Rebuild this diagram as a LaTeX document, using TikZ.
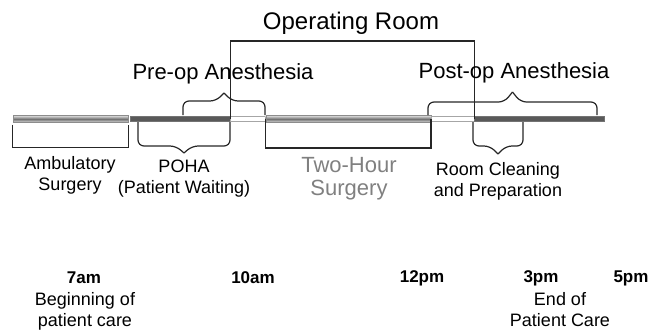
\documentclass[tikz,border=0pt]{standalone}
\usepackage{fontspec}
\setmainfont{Liberation Sans}
\usetikzlibrary{positioning}

% brace with long arms: x1, x2, bar y, arm y, tip y
\newcommand{\spanbrace}[5]{%
  \pgfmathsetmacro\bmid{(#1+#2)/2}%
  \draw[bracepath] (#1,#3) -- (#1,#4) -- (\bmid-8,#4) -- (\bmid,#5);
  \draw[bracepath] (#2,#3) -- (#2,#4) -- (\bmid+8,#4) -- (\bmid,#5);
}

\begin{document}
\begin{tikzpicture}[
  x=1pt, y=-1pt, node distance=0pt,
  heading/.style={font=\fontsize{22}{26}\selectfont, inner sep=0pt},
  note/.style={font=\fontsize{18}{21}\selectfont, align=center, inner sep=0pt},
  hour/.style={font=\fontsize{17}{20}\selectfont\bfseries, inner sep=0pt},
  lightbar/.style={rectangle, draw=black!45, top color=black!12, bottom color=black!12,
                   middle color=black!55, minimum height=7pt, inner sep=0pt},
  darkbar/.style={rectangle, draw=black!55, fill=black!65, minimum height=5pt, inner sep=0pt},
  gapbar/.style={rectangle, draw=black!35, fill=white, minimum height=5pt, inner sep=0pt},
  bracket/.style={line width=1.2pt, draw=black!85},
  bracepath/.style={line width=1.2pt, draw=black!85, rounded corners=6pt}
]
\useasboundingbox (0,0) rectangle (650,332);

% timeline bars
\node[lightbar, minimum width=115pt] (amb) at (70.5,119) {};
\node[darkbar, minimum width=100pt, right=1.5pt of amb] (poha) {};
\node[gapbar, minimum width=35pt, right=of poha] (gap1) {};
\node[lightbar, minimum width=165pt, right=of gap1] (surg) {};
\node[gapbar, minimum width=43pt, right=of surg] (gap2) {};
\node[darkbar, minimum width=130pt, right=of gap2] (post) {};

% brackets under the bars
\draw[bracket] ([yshift=-2pt]amb.south west) -- ++(0,23) -| ([yshift=-2pt]amb.south east);
\draw[bracket] (surg.west) -- ++(0,29) -| (surg.east);
\draw[bracket] (poha.east) -- ++(0,-78) -| (post.west);

% braces
\spanbrace{138}{230}{122}{146}{153}
\spanbrace{183}{265}{115}{101}{93}
\spanbrace{473}{523}{122}{146}{154}
\spanbrace{428}{597}{115}{102}{92}

% headings
\node[heading, font=\fontsize{24}{28}\selectfont] (ortxt) at (351,23) {Operating Room};
\node[heading] (preop) at (223,74) {Pre-op Anesthesia};
\node[heading] (postop) at (514,73) {Post-op Anesthesia};

% phase labels
\node[note] (ambtxt) at (70,175) {Ambulatory\\Surgery};
\node[note] (pohatxt) at (184,179) {POHA\\(Patient Waiting)};
\node[note, font=\fontsize{22}{23}\selectfont, text=black!50] (surgtxt) at (349,179) {Two-Hour\\Surgery};
\node[note] (roomtxt) at (498,181) {Room Cleaning\\and Preparation};

% times
\node[hour] (h7) at (84,278) {7am};
\node[hour] (h10) at (253,278) {10am};
\node[hour] (h12) at (422,278) {12pm};
\node[hour] (h3) at (541,278) {3pm};
\node[hour] (h5) at (631,278) {5pm};
\node[note] (begintxt) at (85,311) {Beginning of\\patient care};
\node[note] (endtxt) at (560,310) {End of\\Patient Care};
\end{tikzpicture}
\end{document}
